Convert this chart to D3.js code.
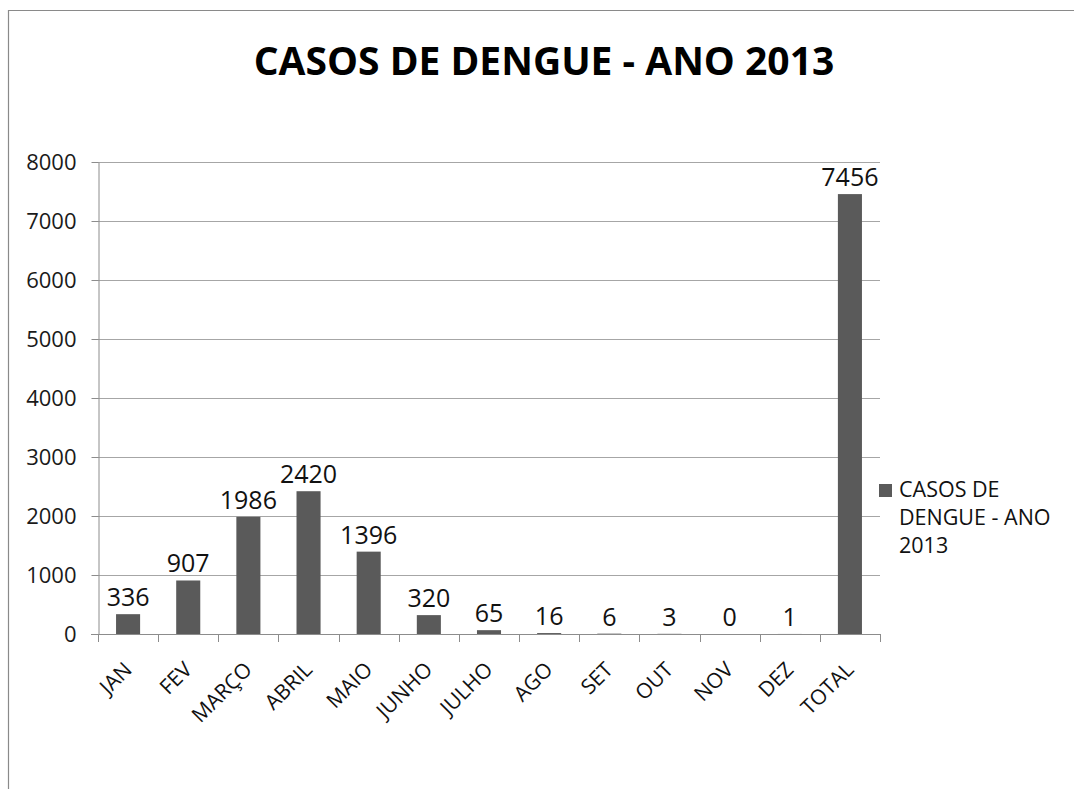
<!DOCTYPE html>
<html>
<head>
<meta charset="utf-8">
<script src="https://cdn.jsdelivr.net/npm/d3@7"></script>
<style>
  html, body { margin: 0; padding: 0; background: #fff; }
  svg { display: block; }
</style>
</head>
<body>
<script>
// Monthly dengue cases, 2013
const categories = ["JAN", "FEV", "MARÇO", "ABRIL", "MAIO", "JUNHO", "JULHO", "AGO", "SET", "OUT", "NOV", "DEZ", "TOTAL"];
const cases = [336, 907, 1986, 2420, 1396, 320, 65, 16, 6, 3, 0, 1, 7456];
const yTicks = [0, 1000, 2000, 3000, 4000, 5000, 6000, 7000, 8000];
const chartTitle = "CASOS DE DENGUE - ANO 2013";
const seriesName = ["CASOS DE", "DENGUE - ANO", "2013"];

const W = 1074, H = 789;
const plot = { left: 98, right: 880, top: 162, bottom: 634 };
const barColor = "#5a5a5a";
const font = "'Open Sans', 'Noto Sans', sans-serif";

const svg = d3.select("body").append("svg")
  .attr("width", W).attr("height", H);

// chart frame
svg.append("path")
  .attr("d", `M8.5,${H} L8.5,10.5 L${W},10.5`)
  .attr("fill", "none").attr("stroke", "#8a8a8a").attr("stroke-width", 1.2);

// title
svg.append("text")
  .attr("x", 544).attr("y", 75)
  .attr("text-anchor", "middle")
  .attr("font-family", font).attr("font-weight", 700)
  .attr("font-size", 39).attr("fill", "#000")
  .text(chartTitle);

const x = d3.scaleBand()
  .domain(categories)
  .range([plot.left, plot.right])
  .paddingInner(0.6).paddingOuter(0.3);

const y = d3.scaleLinear()
  .domain([0, 8000])
  .range([plot.bottom, plot.top]);

// horizontal gridlines
svg.append("g")
  .selectAll("line")
  .data(yTicks.filter(d => d > 0))
  .join("line")
  .attr("x1", plot.left).attr("x2", plot.right)
  .attr("y1", d => Math.round(y(d)) + 0.5).attr("y2", d => Math.round(y(d)) + 0.5)
  .attr("stroke", "#a6a6a6").attr("stroke-width", 1);

// y axis
const yAxis = svg.append("g")
  .attr("transform", `translate(${plot.left + 0.5},0)`)
  .call(d3.axisLeft(y).tickValues(yTicks).tickFormat(d3.format("d"))
    .tickSize(7).tickSizeOuter(0).tickPadding(15));
yAxis.select(".domain").attr("stroke", "#8c8c8c");
yAxis.selectAll(".tick line").attr("stroke", "#8c8c8c");
yAxis.selectAll(".tick text")
  .attr("font-family", font).attr("font-size", 22).attr("fill", "#1a1a1a");

// bars
svg.append("g")
  .selectAll("rect")
  .data(categories.map((c, i) => ({ c, v: cases[i] })))
  .join("rect")
  .attr("x", d => x(d.c))
  .attr("width", x.bandwidth())
  .attr("y", d => y(d.v))
  .attr("height", d => y(0) - y(d.v))
  .attr("fill", barColor);

// x axis line and boundary ticks
const xAxisG = svg.append("g");
xAxisG.append("line")
  .attr("x1", plot.left - 7).attr("x2", plot.right)
  .attr("y1", plot.bottom + 0.5).attr("y2", plot.bottom + 0.5)
  .attr("stroke", "#8c8c8c");
xAxisG.selectAll("line.tk")
  .data(d3.range(categories.length + 1))
  .join("line").attr("class", "tk")
  .attr("x1", i => Math.round(plot.left + i * x.step()) + 0.5)
  .attr("x2", i => Math.round(plot.left + i * x.step()) + 0.5)
  .attr("y1", plot.bottom).attr("y2", plot.bottom + 8)
  .attr("stroke", "#8c8c8c");

// rotated category labels
xAxisG.selectAll("text")
  .data(categories)
  .join("text")
  .attr("transform", d => `translate(${x(d) + x.bandwidth() / 2 + 5},671) rotate(-45)`)
  .attr("text-anchor", "end")
  .attr("font-family", font).attr("font-size", 21).attr("fill", "#111")
  .text(d => d);

// value labels
svg.append("g")
  .selectAll("text")
  .data(categories.map((c, i) => ({ c, v: cases[i] })))
  .join("text")
  .attr("x", d => x(d.c) + x.bandwidth() / 2)
  .attr("y", d => y(d.v) - 8)
  .attr("text-anchor", "middle")
  .attr("font-family", font).attr("font-size", 25).attr("fill", "#111")
  .text(d => d.v);

// legend
const lg = svg.append("g").attr("transform", "translate(879,484)");
lg.append("rect").attr("width", 13).attr("height", 13).attr("fill", barColor);
lg.selectAll("text")
  .data(seriesName)
  .join("text")
  .attr("x", 20).attr("y", (d, i) => 13 + i * 28)
  .attr("font-family", font).attr("font-size", 21.5).attr("fill", "#111")
  .text(d => d);
</script>
</body>
</html>
